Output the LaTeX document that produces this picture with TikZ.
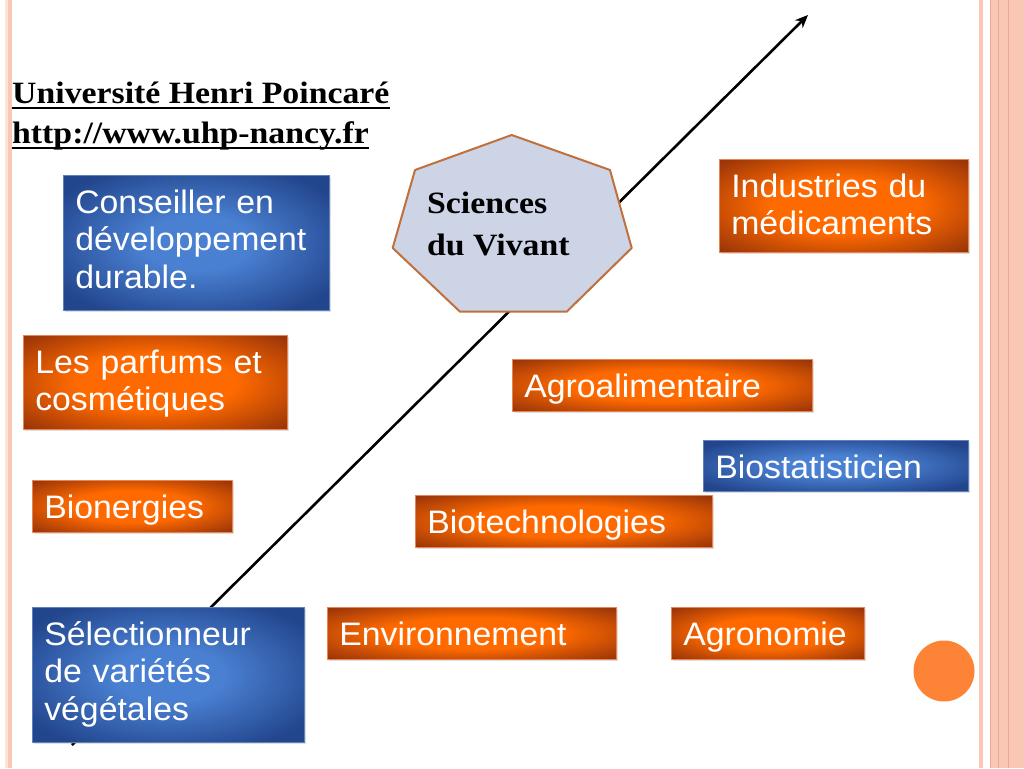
\documentclass[tikz,border=0pt]{standalone}
\usepackage{fontspec}
\setmainfont{Liberation Serif}[FakeStretch=1.09]
\newfontfamily\boxfont{Liberation Sans}[FakeStretch=1.04]
\usetikzlibrary{arrows.meta,shadows}
\definecolor{orin}{HTML}{FF6A00}
\definecolor{orout}{HTML}{9C3608}
\definecolor{orline}{HTML}{E88450}
\definecolor{blin}{HTML}{4A80D2}
\definecolor{blout}{HTML}{22458C}
\definecolor{blline}{HTML}{5C80C0}
\definecolor{heptfill}{HTML}{CDD4E6}
\definecolor{heptline}{HTML}{C0703C}
\definecolor{stripe}{HTML}{FBC7B5}
\definecolor{stripedark}{HTML}{EDAA92}
\definecolor{cream}{HTML}{FBE4D6}
\definecolor{dotc}{HTML}{FD8436}
\pgfdeclareradialshading{orglow}{\pgfpoint{0bp}{0bp}}{color(0bp)=(orin); color(15bp)=(orin); color(34bp)=(orout); color(50bp)=(orout)}
\pgfdeclareradialshading{blglow}{\pgfpoint{0bp}{0bp}}{color(0bp)=(blin); color(10bp)=(blin); color(31bp)=(blout); color(50bp)=(blout)}
\tikzset{
  tile/.style={anchor=north west, inner xsep=12pt, inner ysep=0pt, align=left, text=white,
    text height=38pt, font=\boxfont\fontsize{32.5}{37.5}\selectfont,
    drop shadow={shadow xshift=1.5pt, shadow yshift=-2pt, opacity=0.25}},
  ortile/.style={tile, shade, shading=orglow, draw=orline, line width=0.6pt},
  bltile/.style={tile, shade, shading=blglow, draw=blline, line width=0.6pt},
  titletext/.style={anchor=base west, inner sep=0pt, font=\bfseries\fontsize{31}{40}\selectfont},
  uline/.style={line width=2pt},
}
\begin{document}
\begin{tikzpicture}[x=1pt, y=-1pt]
\useasboundingbox (0,0) rectangle (1024,768);
\fill[white] (0,0) rectangle (1024,768);
\fill[cream] (5,0) rectangle (8,768);
\fill[stripe] (8,0) rectangle (12,768);
\fill[stripe] (979,0) rectangle (983,768);
\fill[stripe] (990,0) rectangle (1024,768);
\draw[stripedark, line width=0.8pt] (990,0) -- (990,768);
\draw[stripedark, line width=0.8pt] (998,0) -- (998,768);
\draw[stripedark, line width=0.8pt] (1008,0) -- (1008,768);
\fill[dotc] (944,671) circle [radius=30.5];
\coordinate (S) at (72,745) ;
\coordinate (T) at (808,15) ;
\draw[-{Stealth[length=13pt,width=11pt]}, line width=2.6pt] (S) -- (T);
\coordinate (H1) at (511.7,135) ;
\coordinate (H2) at (610  ,170) ;
\coordinate (H3) at (631.7,248) ;
\coordinate (H4) at (566.7,311.7) ;
\coordinate (H5) at (460  ,311.7) ;
\coordinate (H6) at (392.7,248) ;
\coordinate (H7) at (415  ,170) ;
\draw[fill=heptfill, draw=heptline, line width=2pt, line join=round] (H1) -- (H2) -- (H3) -- (H4) -- (H5) -- (H6) -- (H7) -- cycle;
\node[anchor=north west, inner sep=0pt, align=left, font=\bfseries\fontsize{31}{42}\selectfont] (vivant) at (427,191.5) {Sciences\\du Vivant};
\node[titletext] (uhp) at (12,103) {Université Henri Poincaré};
\node[titletext] (url) at (12,143) {http://www.uhp-nancy.fr};
\draw[uline] ([yshift=-5pt]uhp.base west) -- ([yshift=-5pt]uhp.base east);
\draw[uline] ([yshift=-5pt]url.base west) -- ([yshift=-5pt]url.base east);
\node[bltile, text width=242pt, text depth=97pt] (conseil) at (63,175) {Conseiller en\\développement\\durable.};
\node[ortile, text width=225pt, text depth=55pt] (industrie) at (719,159) {Industries du\\médicaments};
\node[ortile, text width=240pt, text depth=56pt] (parfum) at (23,335) {Les parfums et\\cosmétiques};
\node[ortile, text width=176pt, text depth=14pt] (bionergie) at (32,480) {Bionergies};
\node[ortile, text width=276pt, text depth=14pt] (agroal) at (512,359) {Agroalimentaire};
\node[bltile, text width=241pt, text depth=13pt] (biostat) at (703,440) {Biostatisticien};
\node[ortile, text width=273pt, text depth=14pt] (biotech) at (415,495) {Biotechnologies};
\node[ortile, text width=265pt, text depth=14pt] (environ) at (327,607) {Environnement};
\node[ortile, text width=169pt, text depth=14pt] (agronom) at (671,607) {Agronomie};
\node[bltile, text width=248pt, text depth=97pt] (select) at (32,607) {Sélectionneur\\de variétés\\végétales};
\end{tikzpicture}
\end{document}
